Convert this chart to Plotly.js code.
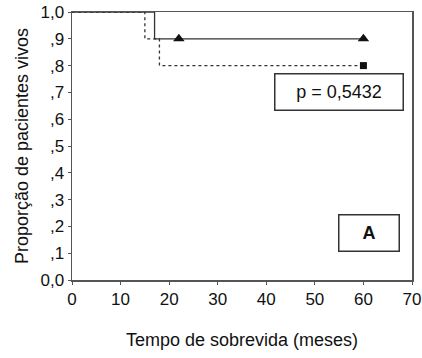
<!DOCTYPE html>
<html><head><meta charset="utf-8">
<script src="https://cdn.plot.ly/plotly-3.0.1.min.js"></script>
<style>html,body{margin:0;padding:0;background:#fff;}#chart{width:422px;height:358px;}</style>
</head><body><div id="chart"></div>
<script>
// Kaplan-Meier curves
const solidTimes = [0, 17, 60];
const solidSurv = [1.0, 0.9, 0.9];
const dashedTimes = [0, 15, 18, 60];
const dashedSurv = [1.0, 0.9, 0.8, 0.8];
const solidCensorTimes = [22, 60];
const solidCensorSurv = [0.9, 0.9];
const dashedCensorTimes = [60];
const dashedCensorSurv = [0.8];
const yTickVals = [0, 0.1, 0.2, 0.3, 0.4, 0.5, 0.6, 0.7, 0.8, 0.9, 1.0];
const yTickText = ['0,0', ',1', ',2', ',3', ',4', ',5', ',6', ',7', ',8', ',9', '1,0'];
const xTickVals = [0, 10, 20, 30, 40, 50, 60, 70];
const pText = 'p = 0,5432';
const panelText = 'A';

const col = '#333';
const traces = [
  {x: dashedTimes, y: dashedSurv, mode: 'lines', line: {shape: 'hv', color: col, width: 1.3, dash: '3px,3px'}, hoverinfo: 'skip'},
  {x: solidTimes, y: solidSurv, mode: 'lines', line: {shape: 'hv', color: col, width: 1.3}, hoverinfo: 'skip'},
  {x: solidCensorTimes, y: solidCensorSurv, mode: 'markers', marker: {symbol: 'triangle-up', size: 10, color: '#111'}},
  {x: dashedCensorTimes, y: dashedCensorSurv, mode: 'markers', marker: {symbol: 'square', size: 7, color: '#111'}}
];
const fam = 'Liberation Sans, Arial, sans-serif';
const tickFont = {family: fam, size: 17, color: '#111'};
const titleFont = {family: fam, size: 18, color: '#111'};
const layout = {
  width: 422, height: 358,
  margin: {l: 72, r: 10, t: 12, b: 78},
  showlegend: false,
  paper_bgcolor: '#fff', plot_bgcolor: '#fff',
  font: tickFont,
  xaxis: {range: [0, 70], tickvals: xTickVals, ticks: 'outside', ticklen: 3, tickcolor: '#555',
    showline: true, linecolor: '#555', linewidth: 1.5, mirror: true, showgrid: false, zeroline: false,
    tickfont: tickFont, title: {text: 'Tempo de sobrevida (meses)', font: titleFont, standoff: 25}},
  yaxis: {range: [0, 1.0], tickvals: yTickVals, ticktext: yTickText, ticks: 'outside', ticklen: 3, tickcolor: '#555',
    showline: true, linecolor: '#555', linewidth: 1.5, mirror: true, showgrid: false, zeroline: false,
    tickfont: tickFont, title: {text: 'Proporção de pacientes vivos', font: titleFont, standoff: 7}},
  annotations: [
    {x: 54.9, y: 0.70, xref: 'x', yref: 'y', text: pText, showarrow: false, width: 125, height: 33,
     bordercolor: '#333', borderwidth: 1.5, borderpad: 1, bgcolor: '#fff', font: {family: fam, size: 18, color: '#111'}},
    {x: 61.1, y: 0.175, xref: 'x', yref: 'y', text: '<b>' + panelText + '</b>', showarrow: false, width: 57, height: 33,
     bordercolor: '#333', borderwidth: 1.5, borderpad: 1, bgcolor: '#fff', font: {family: fam, size: 18, color: '#111'}}
  ]
};
Plotly.newPlot('chart', traces, layout, {displayModeBar: false, staticPlot: true});
</script></body></html>
